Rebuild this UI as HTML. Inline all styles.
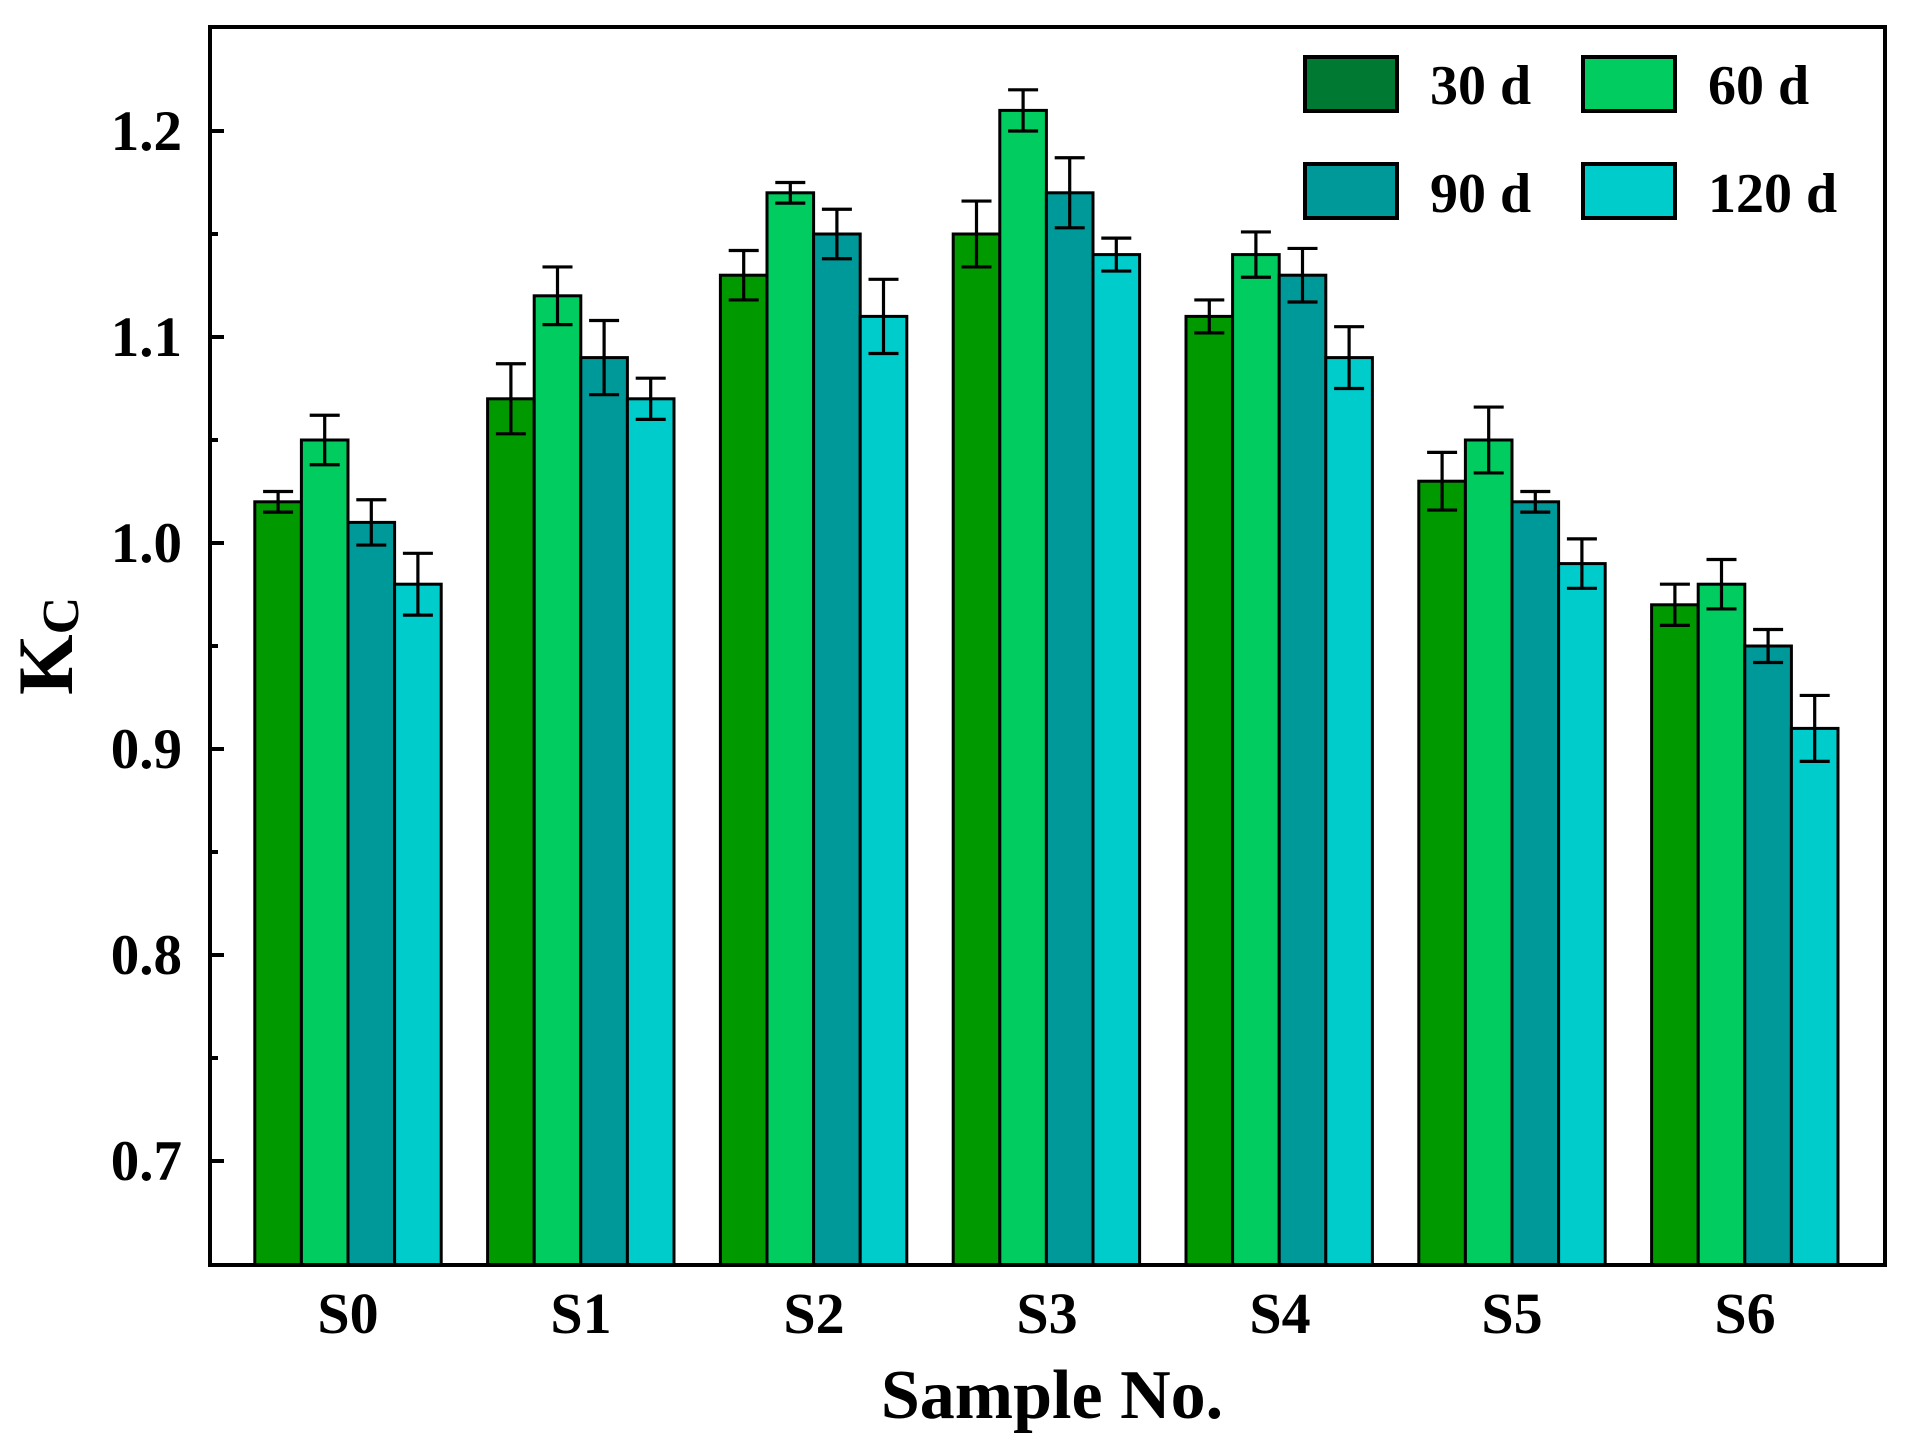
<!DOCTYPE html>
<html><head><meta charset="utf-8"><style>
html,body{margin:0;padding:0;background:#fff;}
svg{display:block;}
text{font-family:"Liberation Serif",serif;font-weight:bold;fill:#000;}
</style></head><body>
<svg id="c" width="1913" height="1454" viewBox="0 0 1913 1454" xmlns="http://www.w3.org/2000/svg">
<g id="bars"></g>
<rect x="210" y="27" width="1675" height="1238" fill="none" stroke="#000" stroke-width="4"/>
<g id="ticks"></g>
<g font-size="57" text-anchor="end">
<text x="182" y="150">1.2</text>
<text x="182" y="356">1.1</text>
<text x="182" y="562">1.0</text>
<text x="182" y="768">0.9</text>
<text x="182" y="974">0.8</text>
<text x="182" y="1180">0.7</text>
</g>
<g font-size="58" text-anchor="middle">
<text x="348" y="1333">S0</text>
<text x="581" y="1333">S1</text>
<text x="814" y="1333">S2</text>
<text x="1047" y="1333">S3</text>
<text x="1280" y="1333">S4</text>
<text x="1512" y="1333">S5</text>
<text x="1745" y="1333">S6</text>
</g>
<text x="1052" y="1418" font-size="70" text-anchor="middle">Sample No.</text>
<text transform="translate(72,695) rotate(-90)" font-size="78">K<tspan font-size="52" dy="6">C</tspan></text>
<g stroke="#000" stroke-width="4">
<rect x="1305" y="57" width="92" height="54" fill="#007a33"/>
<rect x="1583" y="57" width="92" height="54" fill="#00cc5f"/>
<rect x="1305" y="164" width="92" height="54" fill="#009999"/>
<rect x="1583" y="164" width="92" height="54" fill="#00cccc"/>
</g>
<g font-size="56">
<text x="1430" y="104">30 d</text>
<text x="1708" y="104">60 d</text>
<text x="1430" y="212">90 d</text>
<text x="1708" y="212">120 d</text>
</g>
</svg>
<script>
var NS="http://www.w3.org/2000/svg";
function Y(v){return 131+(1.2-v)*2060;}
var data=[
[[1.02,.005],[1.05,.012],[1.01,.011],[0.98,.015]],
[[1.07,.017],[1.12,.014],[1.09,.018],[1.07,.01]],
[[1.13,.012],[1.17,.005],[1.15,.012],[1.11,.018]],
[[1.15,.016],[1.21,.01],[1.17,.017],[1.14,.008]],
[[1.11,.008],[1.14,.011],[1.13,.013],[1.09,.015]],
[[1.03,.014],[1.05,.016],[1.02,.005],[0.99,.012]],
[[0.97,.01],[0.98,.012],[0.95,.008],[0.91,.016]]];
var cols=["#009900","#00cc5f","#009999","#00cccc"];
var g=document.getElementById("bars"),t=document.getElementById("ticks");
function el(p,n,a){var e=document.createElementNS(NS,n);for(var k in a)e.setAttribute(k,a[k]);p.appendChild(e);return e;}
var bw=46.6;
for(var i=0;i<7;i++){var c=348+i*232.8;for(var j=0;j<4;j++){
 var x=c-2*bw+j*bw,v=data[i][j][0],e=data[i][j][1],y=Y(v);
 el(g,"rect",{x:x,y:y,width:bw,height:1265-y,fill:cols[j],stroke:"#000","stroke-width":3});
 var cx=x+bw/2,y1=Y(v+e),y2=Y(v-e);
 el(g,"line",{x1:cx,x2:cx,y1:y1,y2:y2,stroke:"#000","stroke-width":3.2});
 el(g,"line",{x1:cx-15,x2:cx+15,y1:y1,y2:y1,stroke:"#000","stroke-width":3.2});
 el(g,"line",{x1:cx-15,x2:cx+15,y1:y2,y2:y2,stroke:"#000","stroke-width":3.2});
}}
for(var k=0;k<11;k++){var v=0.7+k*0.05,y=Y(v);var L=(k%2==0)?14:8;
 el(t,"line",{x1:210,x2:210+L,y1:y,y2:y,stroke:"#000","stroke-width":4});}
</script>
</body></html>
